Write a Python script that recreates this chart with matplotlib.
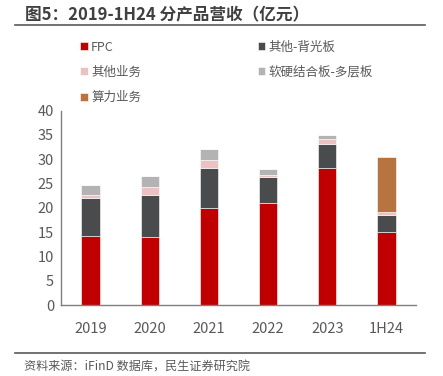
import numpy as np
import matplotlib
matplotlib.use("Agg")
import matplotlib.pyplot as plt
from matplotlib.lines import Line2D

plt.rcParams['font.family'] = ['Noto Sans CJK SC', 'DejaVu Sans']

# data (亿元)
years = ['2019', '2020', '2021', '2022', '2023', '1H24']
fpc = [14.3, 13.9, 20.0, 20.9, 28.3, 15.1]
backlight = [7.8, 8.7, 8.2, 5.4, 4.8, 3.4]
other = [0.5, 1.7, 1.7, 0.4, 1.0, 0.6]
rigid_flex = [2.2, 2.2, 2.3, 1.3, 0.9, 0.0]
computing = [0.0, 0.0, 0.0, 0.0, 0.0, 11.4]

series = [
    ('FPC', fpc, '#C00000'),
    ('其他-背光板', backlight, '#4A4B4D'),
    ('其他业务', other, '#EBC2C2'),
    ('软硬结合板-多层板', rigid_flex, '#B3B3B3'),
    ('算力业务', computing, '#B87440'),
]

fig = plt.figure(figsize=(4.43, 3.76), dpi=100)
ax = fig.add_axes([0.1377, 0.1888, 0.8013, 0.5168])

x = np.arange(len(years))
bottom = np.zeros(len(years))
handles = {}
for name, vals, col in series:
    vals = np.array(vals)
    b = ax.bar(x, vals, 0.31, bottom=bottom, color=col, edgecolor='white',
               linewidth=0.4, label=name)
    handles[name] = b
    bottom += vals

ax.set_ylim(0, 40)
ax.set_xlim(-0.5, len(years) - 0.5)
ax.set_yticks(range(0, 41, 5))
ax.set_xticks(x)
ax.set_xticklabels(years)
ax.tick_params(length=0, labelsize=10.5, colors='#595959', pad=5)
ax.tick_params(axis='x', pad=12)
for s in ['top', 'right']:
    ax.spines[s].set_visible(False)
for s in ['left', 'bottom']:
    ax.spines[s].set_color('#7F7F7F')
    ax.spines[s].set_linewidth(1.0)

order = ['FPC', '其他业务', '算力业务', '其他-背光板', '软硬结合板-多层板']
leg = fig.legend([handles[n] for n in order], order, ncol=2,
                 loc='upper left', bbox_to_anchor=(80 / 443, 0.892),
                 frameon=False, fontsize=9, handlelength=0.6, handleheight=0.6,
                 handletextpad=0.3, labelspacing=0.98, columnspacing=9.3,
                 borderpad=0, borderaxespad=0)
for t in leg.get_texts():
    t.set_color('#595959')

fig.text(25 / 443, 1 - 15 / 376, '图5：2019-1H24 分产品营收（亿元）',
         fontsize=12, fontweight='bold', color='#404040', va='center', ha='left')
fig.add_artist(Line2D([15 / 443, 425 / 443], [1 - 25 / 376, 1 - 25 / 376],
                      color='#595959', linewidth=1.2))
fig.add_artist(Line2D([15 / 443, 425 / 443], [1 - 353 / 376, 1 - 353 / 376],
                      color='#595959', linewidth=1.2))
fig.text(24 / 443, 1 - 367 / 376, '资料来源：iFinD 数据库，民生证券研究院',
         fontsize=8.7, color='#595959', va='center', ha='left')

fig.savefig('out.png', dpi=100)
